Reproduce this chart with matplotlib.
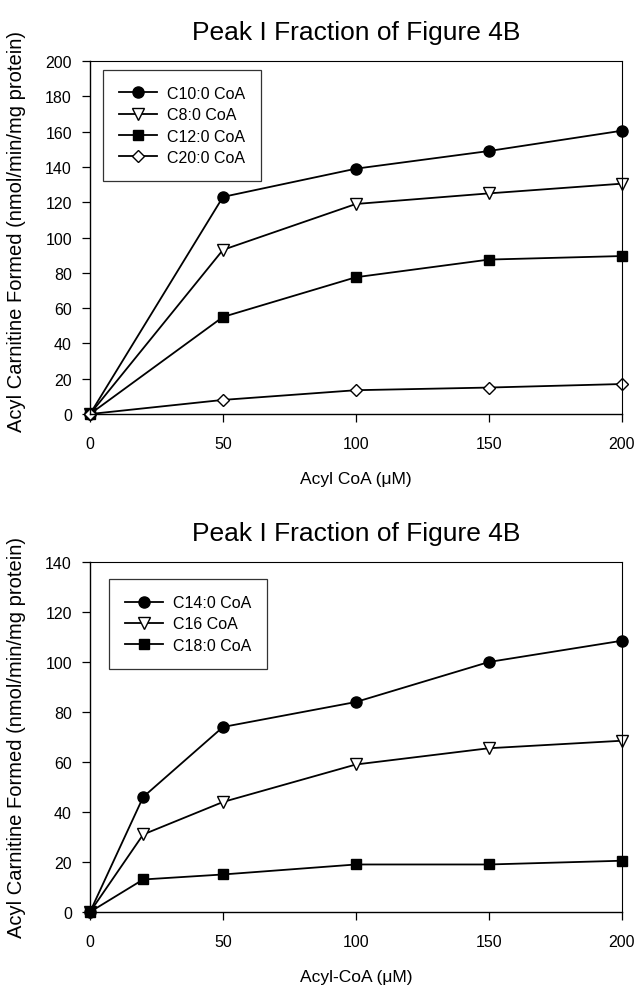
import matplotlib
matplotlib.use("Agg")
import matplotlib.pyplot as plt

plt.rcParams['font.family'] = ['Liberation Sans', 'DejaVu Sans']

# top panel: medium chain acyl-CoAs
conc_top = [0, 50, 100, 150, 200]
c10 = [0, 123, 139, 149, 160.5]
c8 = [0, 93, 119, 125, 130.5]
c12 = [0, 55, 77.5, 87.5, 89.5]
c20 = [0, 8, 13.5, 15, 17]

# bottom panel: long chain acyl-CoAs
conc_bot = [0, 20, 50, 100, 150, 200]
c14 = [0, 46, 74, 84, 100, 108.5]
c16 = [0, 31, 44, 59, 65.5, 68.5]
c18 = [0, 13, 15, 19, 19, 20.5]

title = 'Peak I Fraction of Figure 4B'
ylabel = 'Acyl Carnitine Formed (nmol/min/mg protein)'

fig = plt.figure(figsize=(6.37, 9.87), dpi=100)
ax1 = fig.add_axes([0.1413, 0.5795, 0.835, 0.3577])
ax2 = fig.add_axes([0.1413, 0.0750, 0.835, 0.3546])

mk = dict(color='black', lw=1.3, markeredgewidth=1.0, clip_on=False)

ax1.plot(conc_top, c10, marker='o', ms=8, mfc='black', label='C10:0 CoA', **mk)
ax1.plot(conc_top, c8, marker='v', ms=8, mfc='white', label='C8:0 CoA', **mk)
ax1.plot(conc_top, c12, marker='s', ms=7.5, mfc='black', label='C12:0 CoA', **mk)
ax1.plot(conc_top, c20, marker='D', ms=6.5, mfc='white', label='C20:0 CoA', **mk)

ax2.plot(conc_bot, c14, marker='o', ms=8, mfc='black', label='C14:0 CoA', **mk)
ax2.plot(conc_bot, c16, marker='v', ms=8, mfc='white', label='C16 CoA', **mk)
ax2.plot(conc_bot, c18, marker='s', ms=7.5, mfc='black', label='C18:0 CoA', **mk)

panels = [(ax1, 200, u'Acyl CoA (\u03bcM)', (0.024, 0.975), 0.52),
          (ax2, 140, u'Acyl-CoA (\u03bcM)', (0.036, 0.951), 0.5)]
for ax, ymax, xlab, leg_pos, ylab_y in panels:
    ax.set_xlim(0, 200)
    ax.set_ylim(0, ymax)
    ax.set_xticks([0, 50, 100, 150, 200])
    ax.set_yticks(range(0, ymax + 1, 20))
    ax.tick_params(direction='out', length=6, width=0.9, labelsize=11.5)
    ax.tick_params(axis='x', pad=10)
    ax.tick_params(axis='y', pad=7)
    for s in ax.spines.values():
        s.set_linewidth(0.8)
    ax.spines['left'].set_linewidth(1.0)
    ax.spines['bottom'].set_linewidth(1.0)
    ax.set_title(title, fontsize=19, pad=16)
    ax.set_xlabel(xlab, fontsize=12.5, labelpad=14)
    ax.set_ylabel(ylabel, fontsize=14.5)
    ax.yaxis.set_label_coords(-0.12, ylab_y)
    leg = ax.legend(loc='upper left', bbox_to_anchor=leg_pos, borderaxespad=0,
                    fontsize=11.5, frameon=True, fancybox=False, edgecolor='black',
                    handlelength=2.4, labelspacing=0.4, borderpad=1.0,
                    handletextpad=0.6)
    leg.get_frame().set_linewidth(0.9)

fig.savefig('out.png', dpi=100)
